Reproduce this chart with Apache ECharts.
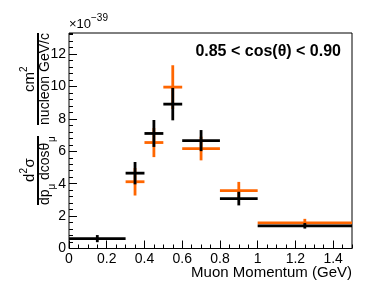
<!DOCTYPE html>
<html>
<head>
<meta charset="utf-8">
<script src="https://cdn.jsdelivr.net/npm/echarts@6/dist/echarts.min.js"></script>
<style>html,body{margin:0;padding:0;background:#fff}#c{width:387px;height:283px}</style>
</head>
<body>
<div id="c"></div>
<script>
// Bin edges and centers (GeV)
const binLo = [0.0, 0.3, 0.4, 0.5, 0.6, 0.8, 1.0];
const binHi = [0.3, 0.4, 0.5, 0.6, 0.8, 1.0, 1.5];
const binCenter = [0.15, 0.35, 0.45, 0.55, 0.7, 0.9, 1.25];
// Cross section (x1e-39)
const blackY   = [0.61, 4.65, 7.10, 8.91, 6.66, 3.08, 1.40];
const blackErr = [0.22, 0.69, 0.83, 1.00, 0.65, 0.42, 0.17];
const orangeY   = [null, 4.12, 6.54, 9.96, 6.17, 3.57, 1.58];
const orangeErr = [null, 0.85, 0.90, 1.35, 0.73, 0.54, 0.25];
const xTickLabels = ['0', '0.2', '0.4', '0.6', '0.8', '1', '1.2', '1.4'];

const FONT = '"Liberation Sans", Arial, Helvetica, sans-serif';

function buildData(ys, errs) {
  const out = [];
  for (let i = 0; i < ys.length; i++) {
    if (ys[i] == null) continue;
    out.push([binLo[i], binHi[i], binCenter[i], ys[i], errs[i]]);
  }
  return out;
}

function makeRender(color) {
  return function (params, api) {
    const y = api.value(3), e = api.value(4);
    const p1 = api.coord([api.value(0), y]);
    const p2 = api.coord([api.value(1), y]);
    const v1 = api.coord([api.value(2), y - e]);
    const v2 = api.coord([api.value(2), y + e]);
    const st = { stroke: color, lineWidth: 2.8, fill: null };
    return {
      type: 'group',
      children: [
        { type: 'line', shape: { x1: p1[0], y1: p1[1], x2: p2[0], y2: p2[1] }, style: st },
        { type: 'line', shape: { x1: v1[0], y1: v1[1], x2: v2[0], y2: v2[1] }, style: st }
      ]
    };
  };
}

function axisBase(extra) {
  return Object.assign({
    type: 'value',
    axisLine: { show: false },
    splitLine: { show: false },
  }, extra);
}

const chart = echarts.init(document.getElementById('c'), null, { renderer: 'canvas' });

function txt(text, x, y, size, align, valign, weight) {
  return {
    type: 'text', x: x, y: y,
    style: {
      text: text, fill: '#000',
      font: (weight || 'normal') + ' ' + size + 'px ' + FONT,
      fontSize: size, fontFamily: FONT, fontWeight: weight || 'normal',
      align: align, verticalAlign: valign,
      textAlign: align, textVerticalAlign: valign
    }
  };
}

// rotated y-axis title group: local x = up, local y = right
const LY = 38; // fraction line position (screen x)
const yTitle = {
  type: 'group', x: 0, y: 283, rotation: Math.PI / 2,
  children: [
    // lower fraction: d^2 sigma / dp_mu dcos theta_mu
    { type: 'line', shape: { x1: 78, y1: LY, x2: 147, y2: LY }, style: { stroke: '#000', lineWidth: 2 } },
    txt('d', 101, LY - 8.5, 15, 'left', 'middle'),
    txt('2', 109.5, LY - 14, 10, 'left', 'middle'),
    txt('σ', 115.5, LY - 8.5, 15, 'left', 'middle'),
    txt('dp', 78, LY + 7.5, 14, 'left', 'middle'),
    txt('μ', 93.6, LY + 14.5, 10, 'left', 'middle'),
    txt('dcosθ', 103, LY + 7.5, 14, 'left', 'middle'),
    txt('μ', 141, LY + 14.5, 10, 'left', 'middle'),
    // upper fraction: cm^2 / nucleon GeV/c
    { type: 'line', shape: { x1: 158, y1: LY, x2: 250, y2: LY }, style: { stroke: '#000', lineWidth: 2 } },
    txt('cm', 191, LY - 8.5, 15, 'left', 'middle'),
    txt('2', 211, LY - 14, 10, 'left', 'middle'),
    txt('nucleon GeV/c', 204, LY + 7.5, 14, 'center', 'middle')
  ]
};

const option = {
  animation: false,
  backgroundColor: '#fff',
  grid: { left: 69, right: 35, top: 33, bottom: 34.5, show: true, borderColor: '#000', borderWidth: 1, backgroundColor: 'transparent' },
  xAxis: [
    axisBase({
      min: 0, max: 1.5, interval: 0.2, position: 'bottom',
      axisTick: { inside: true, length: 8, lineStyle: { color: '#000', width: 1 } },
      axisLabel: {
        showMaxLabel: false, fontSize: 14, color: '#000', fontFamily: FONT, margin: 4,
        formatter: function (v) { const i = Math.round(v / 0.2); return xTickLabels[i] != null ? xTickLabels[i] : ''; }
      }
    }),
    axisBase({
      min: 0, max: 1.5, interval: 0.05, position: 'bottom',
      axisTick: { inside: true, length: 4, lineStyle: { color: '#000', width: 1 } },
      axisLabel: { show: false }
    })
  ],
  yAxis: [
    axisBase({
      min: 0, max: 13.3, interval: 2, position: 'left',
      axisTick: { inside: true, length: 8, lineStyle: { color: '#000', width: 1 } },
      axisLabel: { showMaxLabel: false, fontSize: 14, color: '#000', fontFamily: FONT, margin: 3 }
    }),
    axisBase({
      min: 0, max: 13.3, interval: 0.4, position: 'left',
      axisTick: { inside: true, length: 4, lineStyle: { color: '#000', width: 1 } },
      axisLabel: { show: false }
    })
  ],
  series: [
    { type: 'custom', name: 'MC', renderItem: makeRender('#ff6600'), data: buildData(orangeY, orangeErr), encode: { x: [0, 1, 2], y: [3] }, clip: false, z: 2 },
    { type: 'custom', name: 'Data', renderItem: makeRender('#000000'), data: buildData(blackY, blackErr), encode: { x: [0, 1, 2], y: [3] }, clip: false, z: 3 }
  ],
  graphic: [
    txt('0.85 < cos(θ) < 0.90', 341, 52, 16, 'right', 'middle', 'bold'),
    txt('Muon Momentum (GeV)', 352, 272.5, 15, 'right', 'middle'),
    txt('×10', 69, 24, 13, 'left', 'middle'),
    txt('−39', 91, 18, 10, 'left', 'middle'),
    yTitle
  ]
};
chart.setOption(option);
</script>
</body>
</html>
